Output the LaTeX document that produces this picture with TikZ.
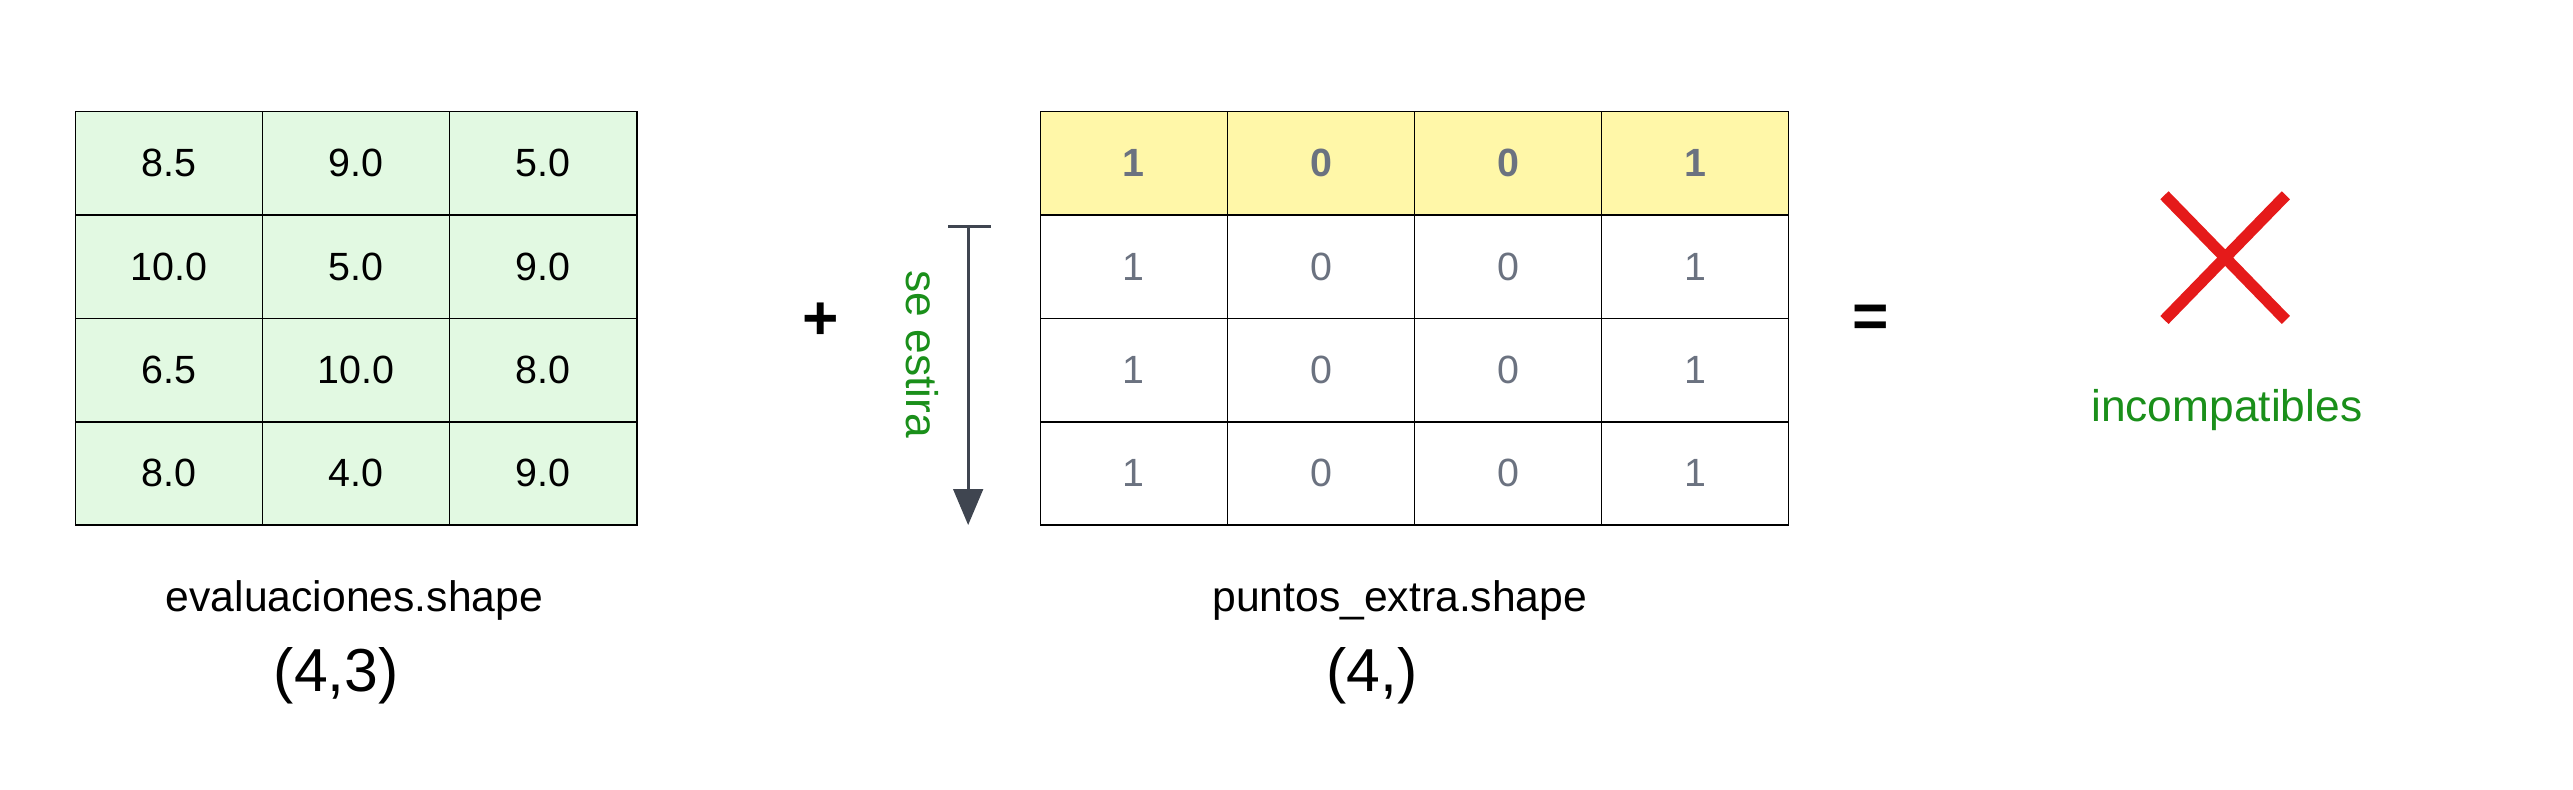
\documentclass[tikz,border=0pt]{standalone}
\usepackage{fontspec}
\setmainfont{Liberation Sans}
\usetikzlibrary{arrows.meta}
\definecolor{cg}{HTML}{E2F9E2}
\definecolor{cy}{HTML}{FFF7A8}
\definecolor{gt}{HTML}{6B7280}
\definecolor{ar}{HTML}{3F4550}
\definecolor{gr}{HTML}{1A8F1A}
\definecolor{rd}{HTML}{E51A1A}
\begin{document}
\begin{tikzpicture}[x=1pt,y=-1pt,
  cell/.style={draw=black,line width=1pt,minimum width=114pt,minimum height=63pt,inner sep=0pt,font=\fontsize{24}{28}\selectfont},
  gc/.style={cell,fill=cg},
  yc/.style={cell,fill=cy,text=gt,font=\fontsize{24}{28}\selectfont\bfseries},
  wc/.style={cell,fill=white,text=gt},
  lab/.style={font=\fontsize{26}{30}\selectfont},
  big/.style={font=\fontsize{37}{42}\selectfont}]
\useasboundingbox (0,0) rectangle (1568,481);
% left table
\foreach \r/\a/\b/\c in {0/8.5/9.0/5.0,1/10.0/5.0/9.0,2/6.5/10.0/8.0,3/8.0/4.0/9.0}{
  \node[gc] (L\r a) at (103,99.5+63*\r) {\a};
  \node[gc] (L\r b) at (217,99.5+63*\r) {\b};
  \node[gc] (L\r c) at (331,99.5+63*\r) {\c};
}
% right table
\foreach \j/\v in {0/1,1/0,2/0,3/1}{
  \node[yc] (R0\j) at (691+114*\j,99.5) {\v};
  \foreach \r in {1,2,3}{\node[wc] (R\r\j) at (691+114*\j,99.5+63*\r) {\v};}
}
\node[font=\fontsize{38}{38}\selectfont\bfseries] (plus) at (500,196) {+};
\node[font=\fontsize{38}{38}\selectfont\bfseries] (eq) at (1140,196) {=};
\coordinate (atop) at (590,138);
\coordinate (abot) at (590,320);
\draw[ar,line width=2pt] (578,138) -- (604,138);
\draw[ar,line width=2pt,-{Triangle[length=22pt,width=18pt]}] (atop) -- (abot);
\node[text=gr,rotate=-90,font=\fontsize{27}{30}\selectfont] (se) at (562,216) {se estira};
\node[lab] (l1) at (216,366) {evaluaciones.shape};
\node[big] (s1) at (205,412) {(4,3)};
\node[lab] (l2) at (853,366) {puntos\_extra.shape};
\node[big] (s2) at (836,412) {(4,)};
\node[minimum size=80pt] (x) at (1356,157) {};
\draw[rd,line width=7pt] (1319,119) -- (1393,195) (1393,119) -- (1319,195);
\node[text=gr,font=\fontsize{27}{30}\selectfont] (inc) at (1357,250) {incompatibles};
\end{tikzpicture}
\end{document}
